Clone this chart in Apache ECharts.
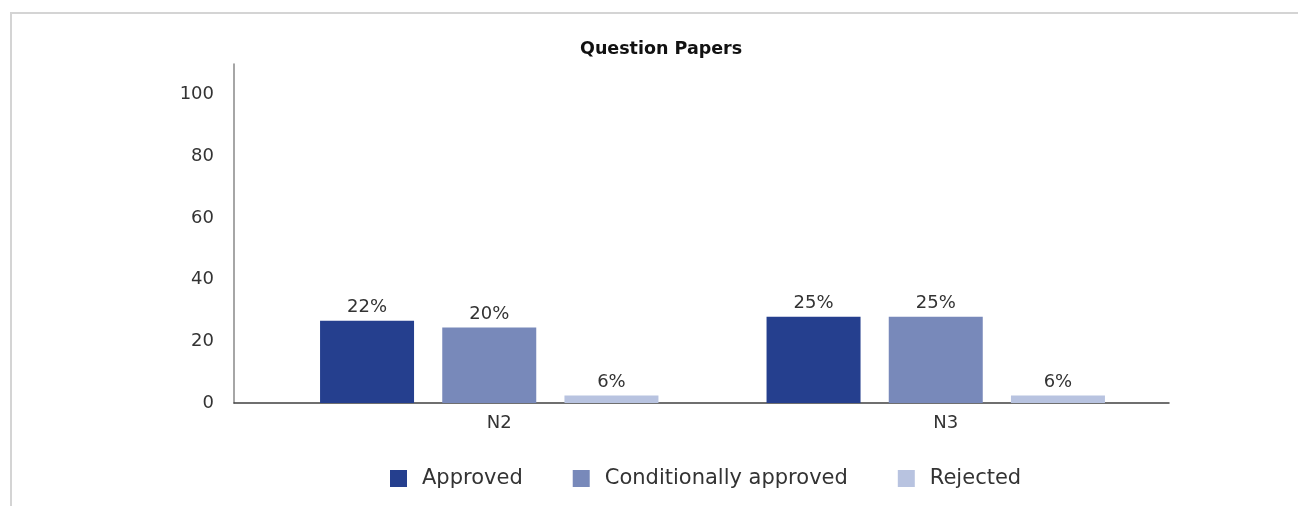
<!DOCTYPE html>
<html>
<head>
<meta charset="utf-8">
<script src="https://cdn.jsdelivr.net/npm/echarts@6/dist/echarts.min.js"></script>
<style>
html,body{margin:0;padding:0;background:#fff;}
#frame{position:absolute;left:10px;top:12px;width:1288px;height:494px;border-top:2px solid #d4d4d4;border-left:2px solid #d4d4d4;box-sizing:border-box;}
#chart{position:absolute;left:0;top:0;width:1298px;height:506px;}
</style>
</head>
<body>
<div id="frame"></div>
<div id="chart"></div>
<script>
const titleText = 'Question Papers';
const categories = ['N2', 'N3'];
const seriesNames = ['Approved', 'Conditionally approved', 'Rejected'];
const approvedValues = [26.7, 28.0];
const conditionalValues = [24.5, 28.0];
const rejectedValues = [2.4, 2.4];
const approvedLabels = ['22%', '25%'];
const conditionalLabels = ['20%', '25%'];
const rejectedLabels = ['6%', '6%'];
const yTicks = [0, 20, 40, 60, 80, 100];
const colors = ['#253F8E', '#7889BA', '#B8C3E0'];

const FONT = 'DejaVu Sans';
const chart = echarts.init(document.getElementById('chart'), null, {renderer: 'canvas'});

function mkSeries(name, values, labels, color) {
  return {
    name: name,
    type: 'bar',
    xAxisIndex: 1,
    yAxisIndex: 1,
    data: values,
    barWidth: 94,
    barGap: '30%',
    itemStyle: {color: color},
    label: {
      show: true,
      position: 'top',
      distance: 4,
      fontFamily: FONT,
      fontSize: 18,
      color: '#333',
      formatter: p => labels[p.dataIndex]
    }
  };
}

chart.setOption({
  animation: false,
  backgroundColor: 'transparent',
  title: {
    text: titleText,
    left: 575,
    top: 35,
    textStyle: {fontFamily: FONT, fontSize: 17.5, fontWeight: 'bold', color: '#111'}
  },
  legend: {
    data: seriesNames,
    left: 385,
    top: 463,
    itemWidth: 17,
    itemHeight: 17,
    itemGap: 50,
    icon: 'rect',
    textStyle: {fontFamily: FONT, fontSize: 21, color: '#333', padding: [0, 0, 0, 10]}
  },
  grid: [
    {left: 234, right: 129, top: 64, bottom: 103},
    {left: 266, right: 139, top: 64, bottom: 103}
  ],
  xAxis: [
    {
      type: 'category', gridIndex: 0, data: categories,
      axisLine: {lineStyle: {color: '#404040', width: 1.5}},
      axisTick: {show: false}, axisLabel: {show: false}, splitLine: {show: false}
    },
    {
      type: 'category', gridIndex: 1, data: categories,
      axisLine: {show: false}, axisTick: {show: false}, splitLine: {show: false},
      axisLabel: {fontFamily: FONT, fontSize: 18, color: '#333', margin: 11, padding: [0, 0, 0, 20]}
    }
  ],
  yAxis: [
    {
      type: 'value', gridIndex: 0, min: 0, max: 110, interval: 20,
      axisLine: {show: true, lineStyle: {color: '#888', width: 1.5}},
      axisTick: {show: false}, splitLine: {show: false},
      axisLabel: {
        fontFamily: FONT, fontSize: 18, color: '#333', margin: 20,
        showMaxLabel: false,
        formatter: v => (yTicks.indexOf(v) >= 0 ? String(v) : '')
      }
    },
    {
      type: 'value', gridIndex: 1, min: 0, max: 110, interval: 20, show: false,
      splitLine: {show: false}
    }
  ],
  series: [
    mkSeries(seriesNames[0], approvedValues, approvedLabels, colors[0]),
    mkSeries(seriesNames[1], conditionalValues, conditionalLabels, colors[1]),
    mkSeries(seriesNames[2], rejectedValues, rejectedLabels, colors[2])
  ]
});
</script>
</body>
</html>
